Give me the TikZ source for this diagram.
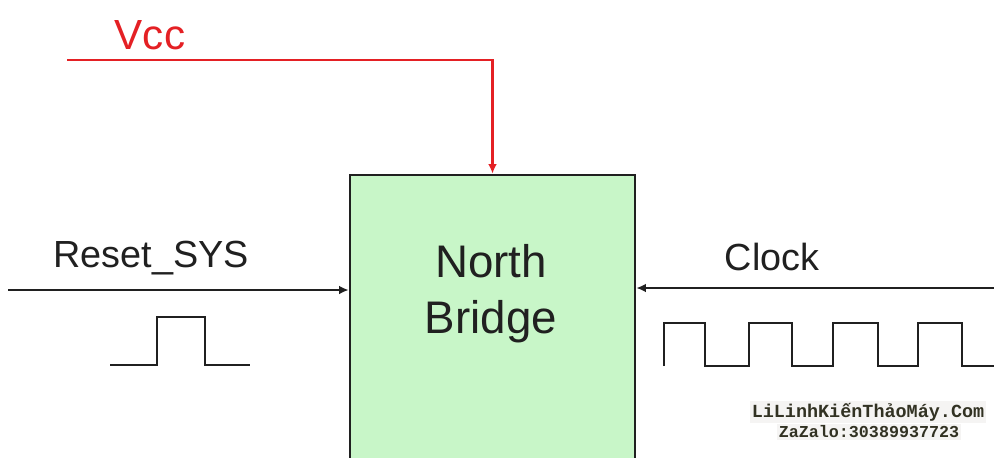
\documentclass[tikz,border=0pt]{standalone}
\usepackage{fontspec}
\setmainfont{Liberation Sans}
\newfontfamily\wmfont{Liberation Mono}
\usetikzlibrary{arrows.meta}
\definecolor{boxgreen}{RGB}{200,246,200}
\definecolor{vccred}{RGB}{228,32,36}
\definecolor{wirecol}{RGB}{32,32,32}
\definecolor{wmcol}{RGB}{50,50,35}

\begin{document}
\begin{tikzpicture}[x=0.02cm,y=-0.02cm,
  wire/.style={draw=wirecol,line width=1.5pt},
  tipin/.style={-{Latex[length=5.5pt,width=5pt]}},
  sig/.style={text=wirecol,inner sep=0pt,font=\fontsize{21.5}{26}\selectfont},
  nbtext/.style={text=wirecol,inner sep=0pt,font=\fontsize{26}{32}\selectfont}]
\useasboundingbox (0,0) rectangle (994,457);
\node[wire,fill=boxgreen,minimum width=5.7cm,minimum height=6.1cm] (nb) at (492.5,327.5) {};
\node[nbtext,anchor=base] (north) at (491,277) {North};
\node[nbtext,anchor=base] (bridge) at (491,333) {Bridge};
\coordinate (vccin) at (67,60);
\coordinate (rstin) at (8,290);
\coordinate (clkin) at (994,288);
\node[text=vccred,inner sep=0pt,font=\fontsize{24}{28}\selectfont,anchor=base] (vcc) at (150,49) {Vcc};
\draw[draw=vccred,line width=1.4pt,tipin] (vccin) -| (nb.north);
\node[sig,anchor=base] (rstlbl) at (151,267) {Reset\_SYS};
\draw[wire,tipin] (rstin) -- (rstin -| nb.west);
\node[sig,anchor=base] (clklbl) at (772,270) {Clock};
\draw[wire,tipin] (clkin) -- (clkin -| nb.east);
\draw[wire] (110,365) -- (157,365) -- (157,317) -- (205,317) -- (205,365) -- (250,365);
\draw[wire] (664,366) \foreach \r/\f/\n in {664/705/749,749/792/833,833/878/918,918/962/996} { -- (\r,323) -- (\f,323) -- (\f,366) -- (\n,366) };
\node[text=wmcol,fill=yellow!6!gray!10,inner sep=1pt,font=\wmfont\bfseries\fontsize{10.5}{12}\selectfont] (wm1) at (868,412) {LiLinhKiếnThảoMáy.Com};
\node[text=wmcol,fill=yellow!6!gray!10,inner sep=1pt,font=\wmfont\bfseries\fontsize{9.5}{11}\selectfont] (wm2) at (869,432) {ZaZalo:30389937723};
\end{tikzpicture}
\end{document}
